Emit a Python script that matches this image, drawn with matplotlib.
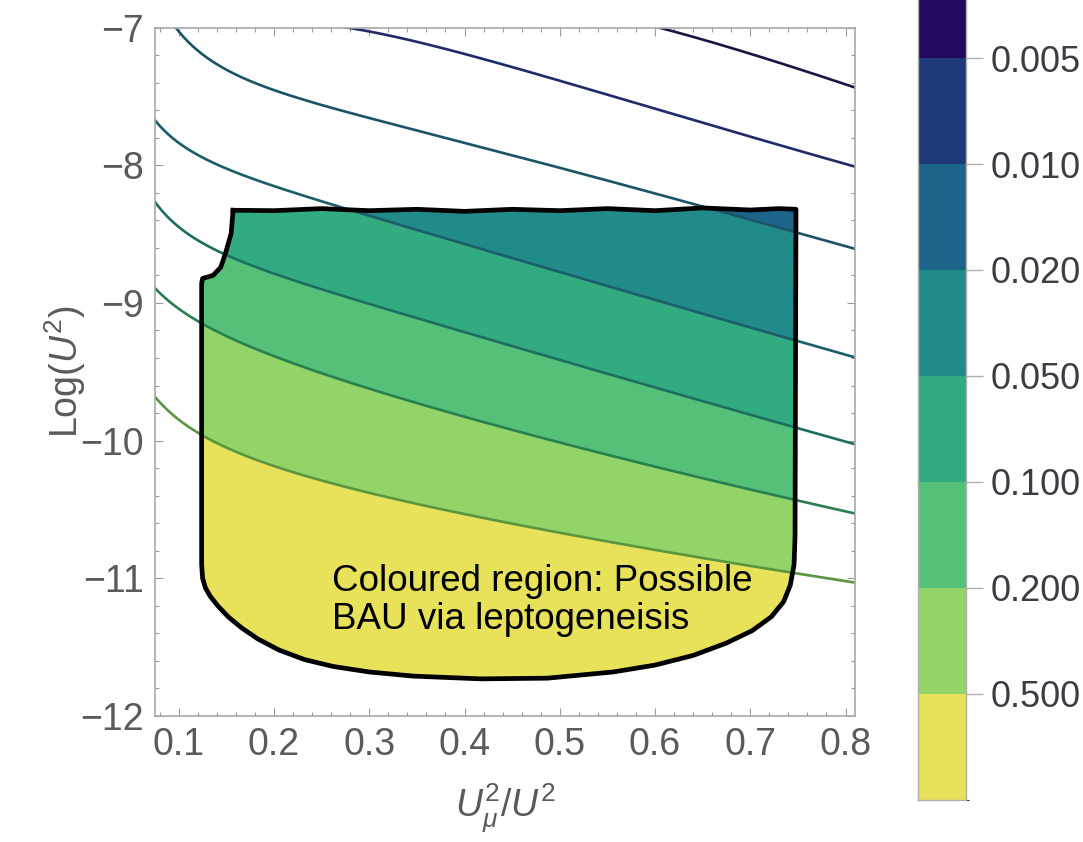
import numpy as np
import matplotlib
matplotlib.use("Agg")
import matplotlib.pyplot as plt
from matplotlib.colors import ListedColormap, BoundaryNorm
from matplotlib.cm import ScalarMappable
from matplotlib.patches import Polygon
from matplotlib.ticker import MultipleLocator

plt.rcParams['font.family'] = ['Liberation Sans', 'DejaVu Sans']
plt.rcParams['mathtext.fontset'] = 'custom'
plt.rcParams['mathtext.rm'] = 'Liberation Sans'
plt.rcParams['mathtext.it'] = 'Liberation Sans:italic'

# === contour levels and their colours ===
levels = [0.005, 0.010, 0.020, 0.050, 0.100, 0.200, 0.500]
bounds = [0.002] + levels + [1.0]
band_colors = ['#21095e', '#1f3a78', '#1c6588', '#208b88',
               '#32ab80', '#55c078', '#93d468', '#e7e25a']
line_colors = ['#1a1545', '#202a6a', '#1a5468', '#1a5e6a',
               '#1d6e62', '#2a7f50', '#5a9540']

# === contour lines: (x, log U^2) points per level ===
x_005 = [0.607, 0.647, 0.752, 0.810]
y_005 = [-7.000, -7.091, -7.295, -7.440]
x_010 = [0.289, 0.333, 0.438, 0.542, 0.647, 0.752, 0.810]
y_010 = [-7.000, -7.091, -7.280, -7.462, -7.673, -7.876, -8.036]
x_020 = [0.095, 0.123, 0.176, 0.228, 0.333, 0.438, 0.542, 0.647, 0.752, 0.810]
y_020 = [-7.000, -7.163, -7.382, -7.513, -7.753, -7.942, -8.051, -8.255, -8.487, -8.647]
x_grid = [0.075, 0.123, 0.176, 0.228, 0.333, 0.438, 0.542, 0.647, 0.752, 0.810]
y_050 = [-7.687, -7.905, -8.087, -8.225, -8.487, -8.662, -8.822, -9.018, -9.273, -9.447]
y_100 = [-8.276, -8.531, -8.727, -8.873, -9.091, -9.287, -9.476, -9.695, -9.913, -10.044]
y_200 = [-8.895, -9.142, -9.309, -9.462, -9.709, -9.913, -10.065, -10.255, -10.436, -10.545]
y_500 = [-9.687, -9.942, -10.124, -10.255, -10.436, -10.604, -10.713, -10.822, -10.960, -11.055]

# === outline of the region with possible BAU ===
bx = [0.157, 0.155, 0.149, 0.144, 0.136, 0.125, 0.124, 0.124, 0.125, 0.128, 0.133, 0.141,
      0.152, 0.166, 0.183, 0.205, 0.232, 0.262, 0.300, 0.346, 0.417, 0.487, 0.556, 0.600,
      0.640, 0.675, 0.702, 0.722, 0.735, 0.742, 0.746, 0.747, 0.748, 0.730, 0.700, 0.650,
      0.600, 0.550, 0.500, 0.450, 0.400, 0.350, 0.300, 0.250, 0.200]
by = [-8.327, -8.495, -8.640, -8.742, -8.800, -8.822, -8.858, -10.900, -11.000, -11.070,
      -11.130, -11.200, -11.280, -11.360, -11.440, -11.520, -11.590, -11.640, -11.680, -11.710,
      -11.730, -11.725, -11.680, -11.630, -11.560, -11.470, -11.380, -11.280, -11.170, -11.050,
      -10.900, -10.700, -8.320, -8.315, -8.325, -8.310, -8.330, -8.315, -8.330, -8.320,
      -8.335, -8.320, -8.330, -8.315, -8.330]


def smooth(x, y, x0, x1, deg=3):
    # polynomial in ln(x) through the read points
    xs = np.linspace(x0, x1, 300)
    coef = np.polyfit(np.log(x), y, deg)
    return xs, np.polyval(coef, np.log(xs))


fig = plt.figure(figsize=(10.83, 8.42), dpi=100)
ax = fig.add_axes([0.1431, 0.1496, 0.6464, 0.8177])

region = Polygon(np.column_stack([bx, by]), closed=True, facecolor='none', edgecolor='none')
ax.add_patch(region)

lines = [smooth(x_005, y_005, 0.58, 0.82, deg=2),
         smooth(x_010, y_010, 0.26, 0.82, deg=2),
         smooth(x_020, y_020, 0.085, 0.82),
         smooth(x_grid, y_050, 0.07, 0.82),
         smooth(x_grid, y_100, 0.07, 0.82),
         smooth(x_grid, y_200, 0.07, 0.82),
         smooth(x_grid, y_500, 0.07, 0.82)]

# filled bands inside the region, from the 0.02 line downwards
xs = np.linspace(0.10, 0.78, 400)
curves = [np.interp(xs, lx, ly) for lx, ly in lines[2:]]
tops = [np.full_like(xs, -6.0)] + curves
bottoms = curves + [np.full_like(xs, -13.0)]
for top, bottom, col in zip(tops, bottoms, band_colors[2:]):
    pc = ax.fill_between(xs, bottom, top, color=col, linewidth=0)
    pc.set_clip_path(region)

for (lx, ly), col in zip(lines, line_colors):
    ax.plot(lx, ly, color=col, lw=1.9)

ax.plot(bx + bx[:1], by + by[:1], color='black', lw=3.4, solid_joinstyle='round')

ax.text(0.261, -11.16, 'Coloured region: Possible\nBAU via leptogeneisis',
        fontsize=26.5, color='black', ha='left', va='center', linespacing=1.1)

ax.set_xlim(0.075, 0.81)
ax.set_ylim(-12, -7)
ax.xaxis.set_major_locator(MultipleLocator(0.1))
ax.xaxis.set_minor_locator(MultipleLocator(0.02))
ax.yaxis.set_major_locator(MultipleLocator(1))
ax.yaxis.set_minor_locator(MultipleLocator(0.2))
ax.tick_params(which='both', direction='in', top=True, right=True, color='#9a9a9a',
               labelsize=27, labelcolor='#5a5a5a', width=0.8)
ax.tick_params(which='major', length=6, pad=8)
ax.tick_params(which='minor', length=3)
ax.set_xticks([0.1, 0.2, 0.3, 0.4, 0.5, 0.6, 0.7, 0.8])
ax.set_xticklabels(['0.1', '0.2', '0.3', '0.4', '0.5', '0.6', '0.7', '0.8'])
for s in ax.spines.values():
    s.set_color('#a8a8a8')
    s.set_linewidth(1.2)

ax.set_xlabel(r'$U_\mu^2/U^2$', fontsize=27, color='#5a5a5a')
ax.set_ylabel(r'$\mathrm{Log}(U^2)$', fontsize=27, color='#5a5a5a')
ax.xaxis.set_label_coords(0.5, -0.095)
ax.yaxis.set_label_coords(-0.095, 0.5)

# === colour bar (small values on top) ===
cax = fig.add_axes([0.8476, 0.0499, 0.0443, 1.0071])
sm = ScalarMappable(norm=BoundaryNorm(bounds, len(band_colors)), cmap=ListedColormap(band_colors))
cb = fig.colorbar(sm, cax=cax, spacing='uniform', ticks=levels)
cb.ax.invert_yaxis()
cb.ax.set_yticklabels(['0.005', '0.010', '0.020', '0.050', '0.100', '0.200', '0.500'])
cb.ax.tick_params(direction='out', length=12, width=1, color='#b0b0b0',
                  labelsize=26, labelcolor='#3c3c44', pad=6)
cb.outline.set_edgecolor('#b0b0b0')
cb.outline.set_linewidth(1)

fig.savefig('out.png', dpi=100)
